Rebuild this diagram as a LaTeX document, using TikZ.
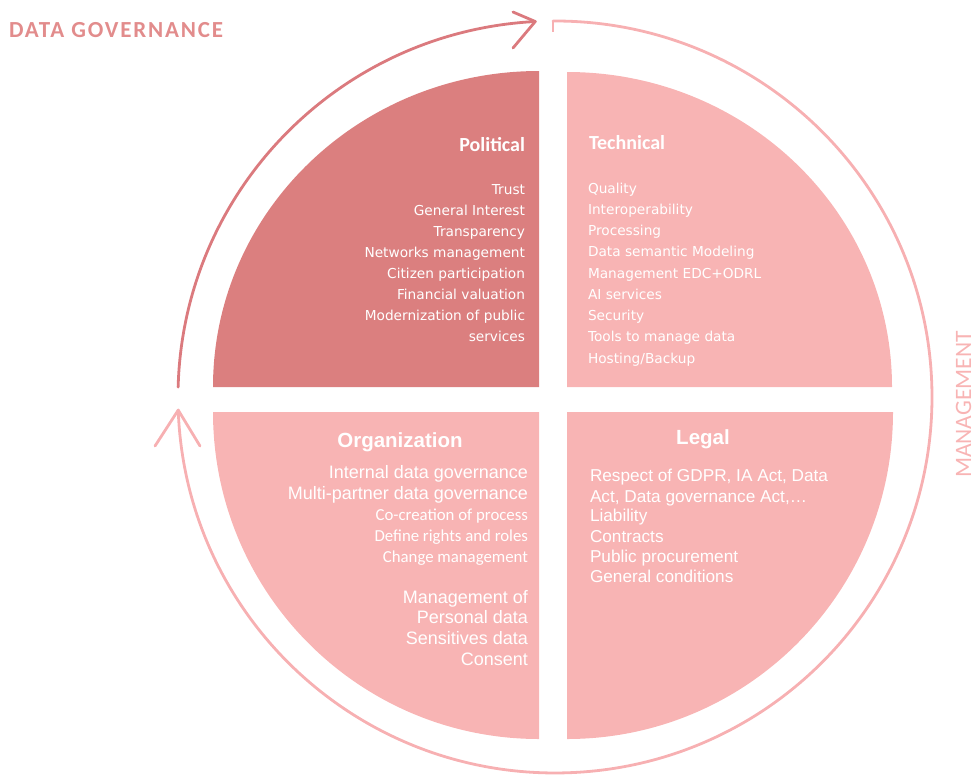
\documentclass[tikz,border=0pt]{standalone}
\usepackage{fontspec}
\setmainfont{Carlito}
\newfontfamily\calib{Carlito}
\newfontfamily\dvs{DejaVu Sans}
\newfontfamily\lib{Liberation Sans}
\newfontfamily\titlefont[LetterSpace=8]{Carlito}
\definecolor{polfill}{RGB}{219,127,127}
\definecolor{lightfill}{RGB}{248,180,180}
\definecolor{darkarc}{RGB}{219,122,126}
\definecolor{lightarc}{RGB}{247,176,178}
\definecolor{titlecol}{RGB}{226,140,140}
\begin{document}
\begin{tikzpicture}[x=1pt,y=-1pt,
  txt/.style={inner sep=0pt, outer sep=0pt, text=white},
  headc/.style={txt, font={\calib\bfseries\fontsize{20}{24}\selectfont}},
  heada/.style={txt, font={\lib\bfseries\fontsize{20.5}{24}\selectfont}, anchor=base},
  polbody/.style={txt, font={\dvs\fontsize{13.7}{16}\selectfont}, anchor=base east},
  techbody/.style={txt, font={\dvs\fontsize{13.7}{16}\selectfont}, anchor=base west},
  orgA/.style={txt, font={\lib\fontsize{18}{20}\selectfont}, anchor=base east},
  orgC/.style={txt, font={\calib\fontsize{16.8}{20}\selectfont}, anchor=base east},
  legbody/.style={txt, font={\lib\fontsize{17.2}{20}\selectfont}, anchor=base west},
  ring/.style={line width=2.8pt, line cap=round, line join=round}
]
\useasboundingbox (0,0) rectangle (976,774);

% quadrants
\fill[polfill] (539,387) -- (213,387) arc[start angle=180, end angle=270, x radius=326, y radius=316] -- cycle;
\fill[lightfill] (567,387) -- (567,72) arc[start angle=270, end angle=360, x radius=325, y radius=315] -- cycle;
\fill[lightfill] (567,412) -- (893,412) arc[start angle=0, end angle=90, x radius=326, y radius=327] -- cycle;
\fill[lightfill] (539,412) -- (539,739) arc[start angle=90, end angle=180, x radius=326, y radius=327] -- cycle;

% outer cycle
\draw[ring, darkarc] (178.13,387.16) arc[start angle=181.5, end angle=267, x radius=377, y radius=376] coordinate (tipA);
\draw[ring, darkarc] (513,12) -- (tipA) -- (513,48);
\draw[ring, lightarc] (553.03,21.0) arc[start angle=-90.3, end angle=178, x radius=377, y radius=376] coordinate (tipB);
\draw[ring, lightarc] (155,446) -- (tipB) -- (200,446);
\coordinate (tickA) at (553,21);
\coordinate (tickB) at (553,32);
\draw[lightarc, line width=2pt] (tickA) -- (tickB);

% titles
\node[inner sep=0pt, anchor=base west, text=titlecol, font={\titlefont\bfseries\fontsize{23}{26}\selectfont}] (title) at (9,37) {DATA GOVERNANCE};
\node[inner sep=0pt, rotate=90, anchor=base, text depth=0pt, text=lightfill, font={\calib\fontsize{23.5}{28}\selectfont}] (mgmt) at (971,404.5) {MANAGEMENT};

% Political
\node[headc, anchor=base east] (polh) at (525,151) {Political};
\foreach \t [count=\i from 0] in {Trust, General Interest, Transparency, Networks management, Citizen participation, Financial valuation, Modernization of public, services}
  \node[polbody] (pol\i) at (525,194+21.1*\i) {\t};

% Technical
\node[headc, anchor=base west] (techh) at (589,149) {Technical};
\foreach \t [count=\i from 0] in {Quality, Interoperability, Processing, Data semantic Modeling, Management EDC+ODRL, AI services, Security, Tools to manage data, Hosting/Backup}
  \node[techbody] (tech\i) at (588,193+21.25*\i) {\t};

% Organization
\node[heada] (orgh) at (400,447) {Organization};
\node[orgA] (org1) at (528,478) {Internal data governance};
\node[orgA] (org2) at (528,499) {Multi-partner data governance};
\node[orgC] (org3) at (528,520) {Co-creation of process};
\node[orgC] (org4) at (528,541) {Define rights and roles};
\node[orgC] (org5) at (528,562) {Change management};
\node[orgA] (org6) at (528,603) {Management of};
\node[orgA] (org7) at (528,623) {Personal data};
\node[orgA] (org8) at (528,644) {Sensitives data};
\node[orgA] (org9) at (528,665) {Consent};

% Legal
\node[heada] (legh) at (703,444) {Legal};
\node[legbody] (leg1) at (590,481) {Respect of GDPR, IA Act, Data};
\node[legbody] (leg2) at (590,502) {Act, Data governance Act,\dots};
\node[legbody] (leg3) at (590,521) {Liability};
\node[legbody] (leg4) at (590,542) {Contracts};
\node[legbody] (leg5) at (590,562) {Public procurement};
\node[legbody] (leg6) at (590,582) {General conditions};
\end{tikzpicture}
\end{document}
